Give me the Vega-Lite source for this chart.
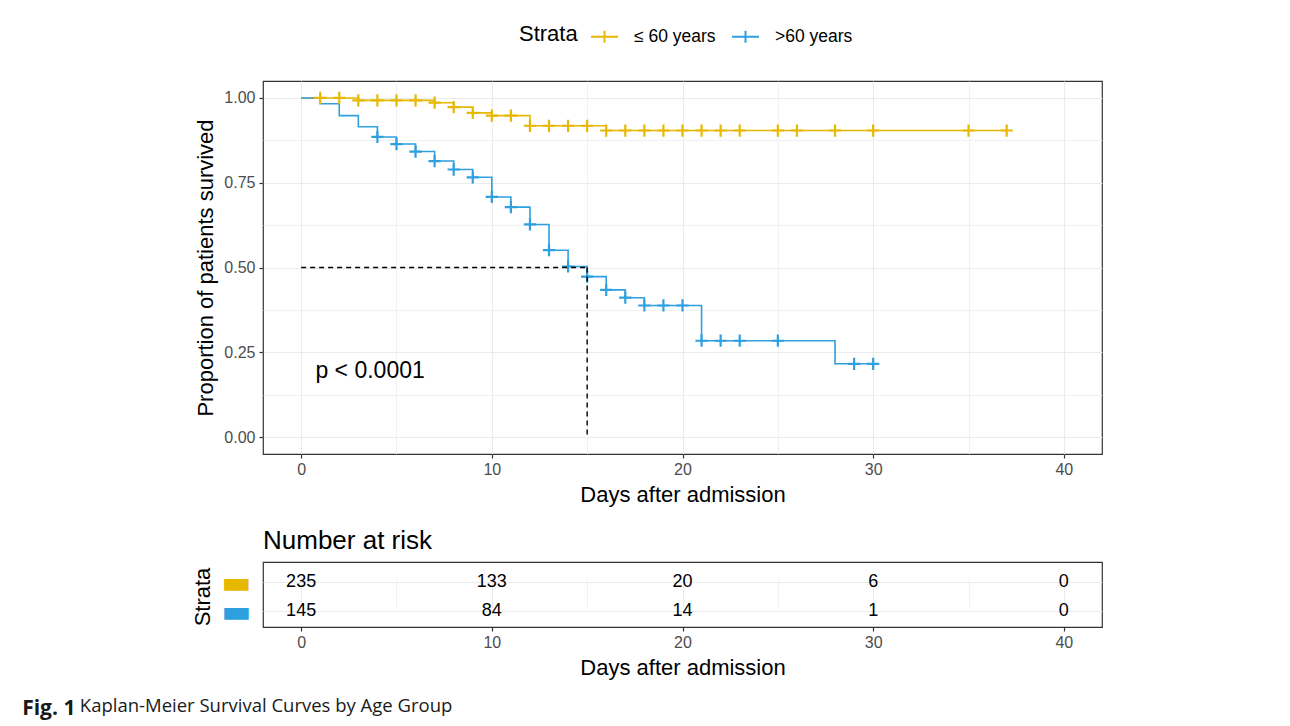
{
  "$schema": "https://vega.github.io/schema/vega-lite/v6.json",
  "padding": {"left": 22, "top": 22, "right": 5, "bottom": 5},
  "background": "white",
  "datasets": {
    "curve": [
      {"strata": "≤ 60 years", "time": 0, "surv": 1.0},
      {"strata": "≤ 60 years", "time": 3, "surv": 0.993},
      {"strata": "≤ 60 years", "time": 7, "surv": 0.986},
      {"strata": "≤ 60 years", "time": 8, "surv": 0.973},
      {"strata": "≤ 60 years", "time": 9, "surv": 0.956},
      {"strata": "≤ 60 years", "time": 10, "surv": 0.948},
      {"strata": "≤ 60 years", "time": 12, "surv": 0.918},
      {"strata": "≤ 60 years", "time": 16, "surv": 0.904},
      {"strata": "≤ 60 years", "time": 37, "surv": 0.904},
      {"strata": ">60 years", "time": 0, "surv": 1.0},
      {"strata": ">60 years", "time": 1, "surv": 0.983},
      {"strata": ">60 years", "time": 2, "surv": 0.948},
      {"strata": ">60 years", "time": 3, "surv": 0.915},
      {"strata": ">60 years", "time": 4, "surv": 0.885},
      {"strata": ">60 years", "time": 5, "surv": 0.864},
      {"strata": ">60 years", "time": 6, "surv": 0.842},
      {"strata": ">60 years", "time": 7, "surv": 0.814},
      {"strata": ">60 years", "time": 8, "surv": 0.789},
      {"strata": ">60 years", "time": 9, "surv": 0.766},
      {"strata": ">60 years", "time": 10, "surv": 0.708},
      {"strata": ">60 years", "time": 11, "surv": 0.678},
      {"strata": ">60 years", "time": 12, "surv": 0.627},
      {"strata": ">60 years", "time": 13, "surv": 0.551},
      {"strata": ">60 years", "time": 14, "surv": 0.503},
      {"strata": ">60 years", "time": 15, "surv": 0.473},
      {"strata": ">60 years", "time": 16, "surv": 0.434},
      {"strata": ">60 years", "time": 17, "surv": 0.411},
      {"strata": ">60 years", "time": 18, "surv": 0.388},
      {"strata": ">60 years", "time": 21, "surv": 0.284},
      {"strata": ">60 years", "time": 28, "surv": 0.216},
      {"strata": ">60 years", "time": 30, "surv": 0.216}
    ],
    "censor": [
      {"strata": "≤ 60 years", "time": 1, "surv": 1.0},
      {"strata": "≤ 60 years", "time": 2, "surv": 1.0},
      {"strata": "≤ 60 years", "time": 3, "surv": 0.993},
      {"strata": "≤ 60 years", "time": 4, "surv": 0.993},
      {"strata": "≤ 60 years", "time": 5, "surv": 0.993},
      {"strata": "≤ 60 years", "time": 6, "surv": 0.993},
      {"strata": "≤ 60 years", "time": 7, "surv": 0.986},
      {"strata": "≤ 60 years", "time": 8, "surv": 0.973},
      {"strata": "≤ 60 years", "time": 9, "surv": 0.956},
      {"strata": "≤ 60 years", "time": 10, "surv": 0.948},
      {"strata": "≤ 60 years", "time": 11, "surv": 0.948},
      {"strata": "≤ 60 years", "time": 12, "surv": 0.918},
      {"strata": "≤ 60 years", "time": 13, "surv": 0.918},
      {"strata": "≤ 60 years", "time": 14, "surv": 0.918},
      {"strata": "≤ 60 years", "time": 15, "surv": 0.918},
      {"strata": "≤ 60 years", "time": 16, "surv": 0.904},
      {"strata": "≤ 60 years", "time": 17, "surv": 0.904},
      {"strata": "≤ 60 years", "time": 18, "surv": 0.904},
      {"strata": "≤ 60 years", "time": 19, "surv": 0.904},
      {"strata": "≤ 60 years", "time": 20, "surv": 0.904},
      {"strata": "≤ 60 years", "time": 21, "surv": 0.904},
      {"strata": "≤ 60 years", "time": 22, "surv": 0.904},
      {"strata": "≤ 60 years", "time": 23, "surv": 0.904},
      {"strata": "≤ 60 years", "time": 25, "surv": 0.904},
      {"strata": "≤ 60 years", "time": 26, "surv": 0.904},
      {"strata": "≤ 60 years", "time": 28, "surv": 0.904},
      {"strata": "≤ 60 years", "time": 30, "surv": 0.904},
      {"strata": "≤ 60 years", "time": 35, "surv": 0.904},
      {"strata": "≤ 60 years", "time": 37, "surv": 0.904},
      {"strata": ">60 years", "time": 4, "surv": 0.885},
      {"strata": ">60 years", "time": 5, "surv": 0.864},
      {"strata": ">60 years", "time": 6, "surv": 0.842},
      {"strata": ">60 years", "time": 7, "surv": 0.814},
      {"strata": ">60 years", "time": 8, "surv": 0.789},
      {"strata": ">60 years", "time": 9, "surv": 0.766},
      {"strata": ">60 years", "time": 10, "surv": 0.708},
      {"strata": ">60 years", "time": 11, "surv": 0.678},
      {"strata": ">60 years", "time": 12, "surv": 0.627},
      {"strata": ">60 years", "time": 13, "surv": 0.551},
      {"strata": ">60 years", "time": 14, "surv": 0.503},
      {"strata": ">60 years", "time": 15, "surv": 0.473},
      {"strata": ">60 years", "time": 16, "surv": 0.434},
      {"strata": ">60 years", "time": 17, "surv": 0.411},
      {"strata": ">60 years", "time": 18, "surv": 0.388},
      {"strata": ">60 years", "time": 19, "surv": 0.388},
      {"strata": ">60 years", "time": 20, "surv": 0.388},
      {"strata": ">60 years", "time": 21, "surv": 0.284},
      {"strata": ">60 years", "time": 22, "surv": 0.284},
      {"strata": ">60 years", "time": 23, "surv": 0.284},
      {"strata": ">60 years", "time": 25, "surv": 0.284},
      {"strata": ">60 years", "time": 29, "surv": 0.216},
      {"strata": ">60 years", "time": 30, "surv": 0.216}
    ],
    "median": [
      {"x": 0, "y": 0.5, "x2": 15, "y2": 0.5},
      {"x": 15, "y": 0.5, "x2": 15, "y2": 0}
    ],
    "pval": [
      {"x": 0.75, "y": 0.195, "label": "p < 0.0001"}
    ],
    "risk": [
      {"strata": "≤ 60 years", "time": 0, "n": 235},
      {"strata": "≤ 60 years", "time": 10, "n": 133},
      {"strata": "≤ 60 years", "time": 20, "n": 20},
      {"strata": "≤ 60 years", "time": 30, "n": 6},
      {"strata": "≤ 60 years", "time": 40, "n": 0},
      {"strata": ">60 years", "time": 0, "n": 145},
      {"strata": ">60 years", "time": 10, "n": 84},
      {"strata": ">60 years", "time": 20, "n": 14},
      {"strata": ">60 years", "time": 30, "n": 1},
      {"strata": ">60 years", "time": 40, "n": 0}
    ]
  },
  "title": {
    "text": "Fig. 1",
    "subtitle": "\u200d\u00a0\u00a0\u00a0\u00a0\u00a0\u00a0\u00a0\u00a0\u00a0\u00a0\u00a0\u00a0Kaplan-Meier Survival Curves by Age Group",
    "orient": "bottom",
    "anchor": "start",
    "font": "Open Sans",
    "fontSize": 21,
    "fontWeight": "bold",
    "color": "#1a1a1a",
    "subtitleFont": "Open Sans",
    "subtitleFontSize": 18.5,
    "subtitleFontWeight": "normal",
    "subtitleColor": "#1a1a1a",
    "subtitlePadding": -22,
    "dx": -169,
    "offset": 19
  },
  "spacing": 21,
  "vconcat": [
    {
      "width": 839,
      "height": 373,
      "layer": [
        {
          "data": {"name": "curve"},
          "mark": {"type": "line", "interpolate": "step-after", "strokeWidth": 1.6},
          "encoding": {
            "x": {
              "field": "time", "type": "quantitative",
              "scale": {"domain": [-2, 42], "nice": false, "zero": false},
              "axis": {
                "title": "Days after admission",
                "values": [0, 5, 10, 15, 20, 25, 30, 35, 40],
                "labelExpr": "datum.value % 10 === 0 ? datum.label : ''",
                "tickOpacity": {"condition": {"test": "datum.value % 10 !== 0", "value": 0}, "value": 1},
                "gridWidth": {"condition": {"test": "datum.value % 10 !== 0", "value": 0.7}, "value": 1.1}
              }
            },
            "y": {
              "field": "surv", "type": "quantitative",
              "scale": {"domain": [-0.05, 1.05], "nice": false, "zero": false},
              "axis": {
                "title": "Proportion of patients survived",
                "values": [0, 0.125, 0.25, 0.375, 0.5, 0.625, 0.75, 0.875, 1],
                "format": ".2f",
                "labelExpr": "(datum.value * 4) % 1 === 0 ? datum.label : ''",
                "tickOpacity": {"condition": {"test": "(datum.value * 4) % 1 !== 0", "value": 0}, "value": 1},
                "gridWidth": {"condition": {"test": "(datum.value * 4) % 1 !== 0", "value": 0.7}, "value": 1.1}
              }
            },
            "color": {
              "field": "strata", "type": "nominal",
              "scale": {"domain": ["≤ 60 years", ">60 years"], "range": ["#E7B800", "#2E9FDF"]},
              "legend": {
                "title": "Strata",
                "orient": "none",
                "legendX": 256,
                "legendY": -59,
                "direction": "horizontal",
                "titleOrient": "left",
                "titleFontSize": 22,
                "titleFontWeight": "normal",
                "titleColor": "black",
                "titlePadding": 12,
                "labelFontSize": 17.5,
                "labelColor": "black",
                "labelOffset": 15,
                "columnPadding": 12,
                "symbolType": "M-1,0H1M0,-0.45V0.45",
                "symbolSize": 729,
                "symbolStrokeWidth": 2,
                "symbolFillColor": "transparent"
              }
            }
          }
        },
        {
          "data": {"name": "censor"},
          "mark": {"type": "point", "shape": "M-1,0H1M0,-1V1", "size": 150, "filled": false, "strokeWidth": 2.2, "opacity": 1},
          "encoding": {
            "x": {"field": "time", "type": "quantitative"},
            "y": {"field": "surv", "type": "quantitative"},
            "color": {"field": "strata", "type": "nominal"}
          }
        },
        {
          "data": {"name": "median"},
          "mark": {"type": "rule", "color": "black", "strokeDash": [5, 4], "strokeWidth": 1.4},
          "encoding": {
            "x": {"field": "x", "type": "quantitative"},
            "y": {"field": "y", "type": "quantitative"},
            "x2": {"field": "x2"},
            "y2": {"field": "y2"}
          }
        },
        {
          "data": {"name": "pval"},
          "mark": {"type": "text", "align": "left", "baseline": "middle", "fontSize": 23, "color": "black"},
          "encoding": {
            "x": {"field": "x", "type": "quantitative"},
            "y": {"field": "y", "type": "quantitative"},
            "text": {"field": "label"}
          }
        }
      ]
    },
    {
      "title": {"text": "Number at risk", "anchor": "start", "frame": "group", "fontSize": 26, "fontWeight": "normal", "color": "black", "offset": 8},
      "width": 839,
      "height": 65,
      "data": {"name": "risk"},
      "mark": {"type": "text", "fontSize": 18, "color": "black"},
      "encoding": {
        "x": {
          "field": "time", "type": "quantitative",
          "scale": {"domain": [-2, 42], "nice": false, "zero": false},
          "axis": {
            "title": "Days after admission",
            "values": [0, 5, 10, 15, 20, 25, 30, 35, 40],
            "labelExpr": "datum.value % 10 === 0 ? datum.label : ''",
            "tickOpacity": {"condition": {"test": "datum.value % 10 !== 0", "value": 0}, "value": 1},
            "gridWidth": {"condition": {"test": "datum.value % 10 !== 0", "value": 0.7}, "value": 1.1}
          }
        },
        "y": {
          "field": "strata", "type": "nominal",
          "scale": {"type": "point", "domain": ["≤ 60 years", ">60 years"], "range": [20, 49], "padding": 0},
          "axis": {
            "title": "Strata",
            "labelExpr": "'▬'",
            "labelFont": "DejaVu Sans",
            "labelFontSize": 32,
            "labelColor": {"condition": {"test": "datum.value === '≤ 60 years'", "value": "#E7B800"}, "value": "#2E9FDF"},
            "ticks": false,
            "labelPadding": 12,
            "gridWidth": 1.1
          }
        },
        "text": {"field": "n", "type": "quantitative"}
      }
    }
  ],
  "config": {
    "font": "Liberation Sans",
    "view": {"stroke": "#333333", "strokeWidth": 1.2},
    "axis": {
      "domain": false,
      "grid": true,
      "gridColor": "#EBEBEB",
      "tickColor": "#333333",
      "tickSize": 4,
      "tickWidth": 1.2,
      "labelColor": "#4D4D4D",
      "labelFontSize": 16,
      "labelPadding": 4,
      "titleFontSize": 22,
      "titleFontWeight": "normal",
      "titleColor": "black",
      "titlePadding": 6
    },
    "axisX": {"labelPadding": 3, "titlePadding": 7},
    "axisY": {"titlePadding": 6}
  }
}
